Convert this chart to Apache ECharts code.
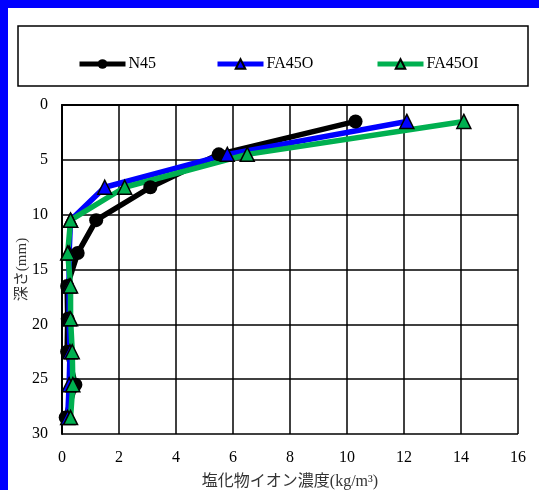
<!DOCTYPE html>
<html>
<head>
<meta charset="utf-8">
<script src="https://cdn.jsdelivr.net/npm/echarts@6/dist/echarts.min.js"></script>
<style>
  html, body { margin: 0; padding: 0; background: #0000ff; }
  #chart { position: absolute; left: 8px; top: 8px; width: 531px; height: 482px; background: #fff; }
</style>
</head>
<body>
<div id="chart"></div>
<script>
// 深さ (mm)
const depths = [1.5, 4.5, 7.5, 10.5, 13.5, 16.5, 19.5, 22.5, 25.5, 28.5];
// 塩化物イオン濃度 (kg/m3)
const n45 = [10.3, 5.5, 3.1, 1.2, 0.55, 0.18, 0.2, 0.18, 0.47, 0.13];
const fa45o = [12.1, 5.8, 1.5, 0.3, 0.25, 0.25, 0.25, 0.28, 0.25, 0.2];
const fa45oi = [14.1, 6.5, 2.2, 0.3, 0.2, 0.3, 0.3, 0.36, 0.38, 0.3];

const font = '"Liberation Serif", "Noto Sans CJK JP", serif';

function pairs(vals) {
  return vals.map((v, i) => [v, depths[i]]);
}

function makeSeries(name, vals, color, symbol, size) {
  return {
    name: name,
    type: 'line',
    data: pairs(vals),
    symbol: symbol,
    symbolSize: size,
    lineStyle: { color: color, width: 5.5 },
    itemStyle: {
      color: color,
      borderColor: '#000',
      borderWidth: symbol === 'circle' ? 0 : 1.5
    },
    emphasis: { disabled: true }
  };
}

const legendBase = {
  top: 43,
  itemWidth: 46,
  itemHeight: 12,
  lineStyle: { width: 5 },
  textStyle: { fontFamily: font, fontSize: 16, color: '#000', padding: [0, 0, 0, -2] }
};

const chart = echarts.init(document.getElementById('chart'));
chart.setOption({
  animation: false,
  textStyle: { fontFamily: font },
  graphic: [{
    type: 'rect',
    shape: { x: 10, y: 18, width: 510, height: 60 },
    style: { fill: 'none', stroke: '#000', lineWidth: 1.5 }
  }],
  legend: [
    Object.assign({ left: 64, data: ['N45'] }, legendBase),
    Object.assign({ left: 202, data: ['FA45O'] }, legendBase),
    Object.assign({ left: 362, data: ['FA45OI'] }, legendBase)
  ],
  grid: { left: 54, right: 21, top: 97, bottom: 56, outerBoundsMode: 'none' },
  xAxis: {
    type: 'value',
    min: 0,
    max: 16,
    interval: 2,
    name: '塩化物イオン濃度(kg/m³)',
    nameLocation: 'middle',
    nameGap: 40,
    nameMoveOverlap: false,
    nameTextStyle: { fontFamily: font, fontSize: 16, color: '#333' },
    axisLine: { lineStyle: { color: '#000', width: 2 } },
    axisTick: { show: false },
    axisLabel: { fontFamily: font, fontSize: 16, color: '#000', margin: 16 },
    splitLine: { lineStyle: { color: '#000', width: 1.5 } }
  },
  yAxis: {
    type: 'value',
    inverse: true,
    min: 0,
    max: 30,
    interval: 5,
    name: '深さ(mm)',
    nameLocation: 'middle',
    nameRotate: 90,
    nameGap: 32,
    nameMoveOverlap: false,
    nameTextStyle: { fontFamily: font, fontSize: 15, color: '#333' },
    axisLine: { lineStyle: { color: '#000', width: 2 } },
    axisTick: { show: false },
    axisLabel: { fontFamily: font, fontSize: 16, color: '#000', margin: 14 },
    splitLine: { lineStyle: { color: '#000', width: 1.5 } }
  },
  series: [
    makeSeries('N45', n45, '#000000', 'circle', 14),
    makeSeries('FA45O', fa45o, '#0000ff', 'triangle', 14),
    makeSeries('FA45OI', fa45oi, '#00b050', 'triangle', 14)
  ]
});
</script>
</body>
</html>
